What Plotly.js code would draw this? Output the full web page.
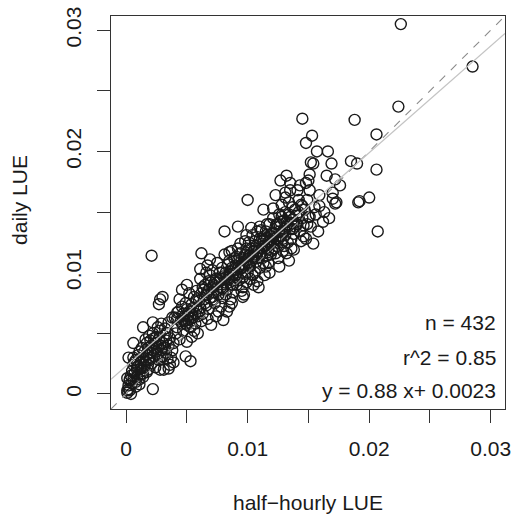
<!DOCTYPE html>
<html>
<head>
<meta charset="utf-8">
<script src="https://cdn.plot.ly/plotly-3.0.1.min.js"></script>
<style>html,body{margin:0;padding:0;background:#fff;}#chart{width:513px;height:515px;}</style>
</head>
<body>
<div id="chart"></div>
<script>
// ---- data: [half-hourly LUE, daily LUE] ----
const clusterOrigin = [
[0.0001,0.0001],[0.0004,0.0000],[0.0003,0.0003],[0.0002,0.0007],[0.0005,0.0009],[0.0003,0.0011],[0.0006,0.0012],[0.0008,0.0010],[0.0001,0.0013],[0.0004,0.0015],[0.0009,0.0014],[0.0007,0.0017],[0.0011,0.0012],[0.0012,0.0016],[0.0005,0.0019],[0.0009,0.0020],[0.0013,0.0019],[0.0010,0.0023],[0.0006,0.0024],[0.0015,0.0022],[0.0014,0.0014],[0.0017,0.0018],[0.0002,0.0004],[0.0008,0.0006],[0.0011,0.0008],[0.0018,0.0024],[0.0016,0.0027],[0.0022,0.0004],[0.0002,0.0030],[0.0006,0.0042],[0.0001,0.0003],[0.0003,0.0012],[0.0014,0.0017],[0.0009,0.0022],[0.0007,0.0026]
];
const clusterLow = [
[0.0008,0.0028],[0.0010,0.0032],[0.0012,0.0026],[0.0014,0.0030],[0.0015,0.0035],[0.0017,0.0032],[0.0018,0.0038],[0.0019,0.0028],[0.0020,0.0034],[0.0021,0.0040],[0.0022,0.0036],[0.0023,0.0031],[0.0024,0.0042],[0.0025,0.0038],[0.0026,0.0033],[0.0027,0.0045],[0.0028,0.0040],[0.0029,0.0036],[0.0030,0.0042],[0.0031,0.0048],[0.0032,0.0038],[0.0033,0.0044],[0.0034,0.0050],[0.0035,0.0040],[0.0036,0.0046],[0.0020,0.0044],[0.0017,0.0042],[0.0013,0.0038],[0.0011,0.0035],[0.0016,0.0045],[0.0019,0.0048],[0.0022,0.0050],[0.0025,0.0047],[0.0028,0.0052],[0.0014,0.0055],[0.0022,0.0059],[0.0021,0.0025],[0.0031,0.0020],[0.0036,0.0024],[0.0027,0.0028],[0.0024,0.0022],[0.0030,0.0031],[0.0033,0.0034],[0.0037,0.0030],[0.0038,0.0036],[0.0012,0.0021],[0.0015,0.0024],[0.0018,0.0020],[0.0026,0.0055],[0.0029,0.0058],[0.0032,0.0054],[0.0039,0.0042],[0.0023,0.0046],[0.0028,0.0030],[0.0034,0.0029],[0.0039,0.0026],[0.0035,0.0021],[0.0028,0.0020],[0.0049,0.0031],[0.0053,0.0027],[0.0006,0.0030],[0.0020,0.0030],[0.0025,0.0035],[0.0030,0.0038],[0.0018,0.0034],
[0.0021,0.0114],[0.0028,0.0078],[0.0027,0.0074],[0.0035,0.0059],[0.0038,0.0063],[0.0042,0.0067],[0.0030,0.0080]
];
const bandLower = [
[0.0040,0.0063],[0.0042,0.0055],[0.0043,0.0068],[0.0044,0.0045],[0.0045,0.0060],[0.0046,0.0072],[0.0047,0.0052],[0.0048,0.0064],[0.0049,0.0058],[0.0050,0.0043],[0.0050,0.0070],[0.0041,0.0050],[0.0044,0.0078],[0.0047,0.0066],[0.0049,0.0075],[0.0046,0.0058],[0.0042,0.0062],[0.0048,0.0060],[0.0051,0.0064],[0.0050,0.0057],[0.0047,0.0062],[0.0046,0.0086],[0.0050,0.0090],
[0.0051,0.0061],[0.0052,0.0068],[0.0053,0.0055],[0.0054,0.0074],[0.0055,0.0063],[0.0056,0.0080],[0.0057,0.0058],[0.0058,0.0070],[0.0059,0.0050],[0.0060,0.0077],[0.0052,0.0083],[0.0055,0.0071],[0.0057,0.0066],[0.0053,0.0062],[0.0058,0.0085],[0.0054,0.0047],[0.0059,0.0064],[0.0056,0.0052],
[0.0061,0.0071],[0.0062,0.0083],[0.0063,0.0066],[0.0064,0.0078],[0.0065,0.0090],[0.0066,0.0073],[0.0067,0.0062],[0.0068,0.0086],[0.0069,0.0079],[0.0070,0.0057],[0.0061,0.0095],[0.0063,0.0088],[0.0066,0.0082],[0.0068,0.0070],[0.0070,0.0092],[0.0062,0.0060],[0.0065,0.0075],[0.0069,0.0098],[0.0067,0.0084],[0.0066,0.0100],[0.0062,0.0116],[0.0061,0.0103],[0.0069,0.0111],[0.0067,0.0106],
[0.0071,0.0080],[0.0072,0.0090],[0.0073,0.0075],[0.0074,0.0095],[0.0075,0.0085],[0.0076,0.0068],[0.0077,0.0100],[0.0078,0.0088],[0.0079,0.0079],[0.0080,0.0097],[0.0071,0.0102],[0.0073,0.0092],[0.0075,0.0108],[0.0076,0.0082],[0.0078,0.0072],[0.0080,0.0086],[0.0072,0.0084],[0.0074,0.0064],[0.0077,0.0093],[0.0079,0.0104],[0.0071,0.0088],[0.0080,0.0061]
];
const bandMiddle = [
[0.0081,0.0092],[0.0082,0.0100],[0.0083,0.0086],[0.0084,0.0107],[0.0085,0.0095],[0.0086,0.0078],[0.0087,0.0104],[0.0088,0.0090],[0.0089,0.0112],[0.0090,0.0098],[0.0081,0.0115],[0.0082,0.0082],[0.0084,0.0096],[0.0085,0.0072],[0.0086,0.0101],[0.0087,0.0118],[0.0088,0.0084],[0.0089,0.0094],[0.0090,0.0106],[0.0083,0.0068],[0.0081,0.0134],[0.0092,0.0138],[0.0085,0.0110],[0.0088,0.0099],
[0.0091,0.0100],[0.0092,0.0110],[0.0093,0.0094],[0.0094,0.0116],[0.0095,0.0104],[0.0096,0.0088],[0.0097,0.0112],[0.0098,0.0099],[0.0099,0.0120],[0.0100,0.0108],[0.0091,0.0090],[0.0093,0.0105],[0.0094,0.0124],[0.0096,0.0096],[0.0097,0.0082],[0.0098,0.0115],[0.0099,0.0092],[0.0100,0.0100],[0.0092,0.0120],[0.0095,0.0111],[0.0091,0.0113],[0.0099,0.0131],[0.0096,0.0107],[0.0096,0.0080],
[0.0101,0.0114],[0.0102,0.0105],[0.0103,0.0120],[0.0104,0.0098],[0.0105,0.0112],[0.0106,0.0126],[0.0107,0.0109],[0.0108,0.0093],[0.0109,0.0118],[0.0110,0.0104],[0.0101,0.0125],[0.0102,0.0095],[0.0103,0.0110],[0.0104,0.0131],[0.0105,0.0118],[0.0106,0.0100],[0.0107,0.0122],[0.0108,0.0112],[0.0109,0.0088],[0.0110,0.0128],[0.0100,0.0160],[0.0103,0.0137],[0.0106,0.0115],[0.0108,0.0134],[0.0102,0.0115],
[0.0111,0.0116],[0.0112,0.0128],[0.0113,0.0108],[0.0114,0.0122],[0.0115,0.0134],[0.0116,0.0114],[0.0117,0.0125],[0.0118,0.0100],[0.0119,0.0130],[0.0120,0.0118],[0.0111,0.0135],[0.0112,0.0112],[0.0113,0.0126],[0.0114,0.0098],[0.0115,0.0120],[0.0116,0.0140],[0.0117,0.0108],[0.0118,0.0124],[0.0119,0.0115],[0.0120,0.0132],[0.0113,0.0152],[0.0121,0.0153],[0.0112,0.0120],[0.0116,0.0129]
];
const bandUpper = [
[0.0121,0.0126],[0.0122,0.0120],[0.0123,0.0138],[0.0124,0.0130],[0.0125,0.0112],[0.0126,0.0134],[0.0127,0.0142],[0.0128,0.0125],[0.0129,0.0118],[0.0130,0.0136],[0.0121,0.0145],[0.0122,0.0132],[0.0123,0.0116],[0.0124,0.0140],[0.0125,0.0127],[0.0126,0.0105],[0.0127,0.0130],[0.0128,0.0146],[0.0129,0.0128],[0.0130,0.0122],[0.0128,0.0156],[0.0127,0.0176],[0.0123,0.0164],[0.0126,0.0148],[0.0124,0.0122],
[0.0131,0.0131],[0.0132,0.0142],[0.0133,0.0125],[0.0134,0.0148],[0.0135,0.0136],[0.0136,0.0120],[0.0137,0.0144],[0.0138,0.0132],[0.0139,0.0152],[0.0140,0.0140],[0.0131,0.0150],[0.0132,0.0116],[0.0133,0.0138],[0.0134,0.0110],[0.0135,0.0146],[0.0136,0.0128],[0.0137,0.0136],[0.0138,0.0119],[0.0139,0.0138],[0.0140,0.0147],[0.0132,0.0180],[0.0135,0.0174],[0.0131,0.0166],[0.0131,0.0162],[0.0137,0.0154],[0.0134,0.0158],[0.0135,0.0168],
[0.0141,0.0140],[0.0142,0.0150],[0.0143,0.0134],[0.0144,0.0156],[0.0145,0.0145],[0.0146,0.0139],[0.0147,0.0152],[0.0148,0.0128],[0.0149,0.0160],[0.0150,0.0146],[0.0141,0.0168],[0.0143,0.0172],[0.0145,0.0155],[0.0148,0.0174],[0.0148,0.0207],[0.0145,0.0227],[0.0142,0.0160],[0.0146,0.0130],[0.0149,0.0140],[0.0144,0.0126],
[0.0151,0.0146],[0.0152,0.0191],[0.0154,0.0190],[0.0153,0.0213],[0.0151,0.0168],[0.0151,0.0181],[0.0150,0.0176],[0.0154,0.0124],[0.0155,0.0154],[0.0157,0.0200],[0.0159,0.0164],[0.0159,0.0155],[0.0152,0.0138],[0.0156,0.0148],[0.0158,0.0134]
];
const sparseHigh = [
[0.0162,0.0142],[0.0165,0.0180],[0.0166,0.0200],[0.0169,0.0190],[0.0170,0.0166],[0.0170,0.0161],[0.0172,0.0177],[0.0173,0.0158],[0.0172,0.0157],[0.0176,0.0172],[0.0163,0.0150],[0.0167,0.0145],[0.0185,0.0192],[0.0188,0.0226],[0.0190,0.0190],[0.0191,0.0158],[0.0192,0.0159],[0.0200,0.0162],[0.0206,0.0214],[0.0206,0.0185],[0.0207,0.0134],[0.0224,0.0237],[0.0226,0.0305],[0.0285,0.0270]
];
const bandCore = [
[0.0064,0.0086],[0.0072,0.0078],[0.0075,0.0092],[0.0079,0.0087],[0.0083,0.0097],[0.0086,0.0090],[0.0089,0.0103],[0.0091,0.0096],[0.0094,0.0103],[0.0097,0.0106],[0.0099,0.0110],[0.0101,0.0106],[0.0104,0.0113],[0.0106,0.0120],[0.0108,0.0117],[0.0110,0.0116],[0.0112,0.0124],[0.0114,0.0130],[0.0117,0.0119],[0.0119,0.0127],[0.0121,0.0133],[0.0123,0.0128],[0.0126,0.0140],[0.0128,0.0133],[0.0130,0.0143],[0.0133,0.0140],[0.0136,0.0141],[0.0068,0.0093],[0.0058,0.0078],[0.0054,0.0066],[0.0105,0.0090],[0.0115,0.0105],[0.0095,0.0085],[0.0087,0.0075],[0.0118,0.0140],[0.0110,0.0138],[0.0098,0.0126],[0.0085,0.0117],[0.0060,0.0068],[0.0078,0.0095]
];

// axis ticks and labels
const tickValues = [0, 0.005, 0.01, 0.015, 0.02, 0.025, 0.03];
const tickLabels = ['0', '', '0.01', '', '0.02', '', '0.03'];
const axisRange = [-0.00124, 0.03117];

// fit reported on the chart
const fitSlope = 0.88;
const fitIntercept = 0.0023;
const statLines = ['n = 432', 'r^2 = 0.85', 'y = 0.88 x+ 0.0023'];

const allPoints = [].concat(clusterOrigin, clusterLow, bandLower, bandMiddle, bandCore, bandUpper, sparseHigh);
const xs = allPoints.map(p => p[0]);
const ys = allPoints.map(p => p[1]);

const FONT = 'Liberation Sans, Arial, Helvetica, sans-serif';
const TXT = '#1a1a1a';

const traces = [
  {
    type: 'scatter', mode: 'markers', x: xs, y: ys,
    marker: {symbol: 'circle-open', size: 11, color: '#1a1a1a', line: {width: 1.4, color: '#1a1a1a'}},
    hoverinfo: 'skip'
  },
  {
    type: 'scatter', mode: 'lines', x: axisRange, y: axisRange,
    line: {color: '#8a8a8a', width: 1.1, dash: '8px,8px'}, hoverinfo: 'skip'
  },
  {
    type: 'scatter', mode: 'lines', x: axisRange,
    y: axisRange.map(v => fitSlope * v + fitIntercept),
    line: {color: '#c4c4c4', width: 1.3}, hoverinfo: 'skip'
  }
];

const axisCommon = {
  range: axisRange, autorange: false,
  tickmode: 'array', tickvals: tickValues, ticktext: tickLabels,
  ticks: 'outside', ticklen: 13, tickwidth: 1, tickcolor: '#333',
  showline: true, linecolor: '#333', linewidth: 1, mirror: true,
  showgrid: false, zeroline: false,
  tickfont: {family: FONT, size: 21, color: TXT}
};

const ann = [
  {text: 'half\u2212hourly LUE', xref: 'paper', yref: 'paper', x: 0.5, y: -0.239, xanchor: 'center', yanchor: 'middle', showarrow: false, font: {family: FONT, size: 21, color: TXT}},
  {text: 'daily LUE', xref: 'paper', yref: 'paper', x: -0.231, y: 0.532, xanchor: 'center', yanchor: 'middle', textangle: -90, showarrow: false, font: {family: FONT, size: 21, color: TXT}}
];
const statY = [0.221, 0.132, 0.046];
statLines.forEach((t, i) => ann.push({text: t, xref: 'paper', yref: 'paper', x: 0.982, y: statY[i], xanchor: 'right', yanchor: 'middle', showarrow: false, font: {family: FONT, size: 21, color: TXT}}));

const layout = {
  width: 513, height: 515,
  margin: {l: 111, r: 8, t: 16, b: 106, pad: 0},
  paper_bgcolor: '#fff', plot_bgcolor: '#fff',
  showlegend: false, hovermode: false,
  xaxis: Object.assign({}, axisCommon, {ticklabelstandoff: 8}),
  yaxis: Object.assign({}, axisCommon, {tickangle: -90, ticklabelstandoff: 8}),
  annotations: ann
};

Plotly.newPlot('chart', traces, layout, {staticPlot: true, displayModeBar: false});
</script>
</body>
</html>
